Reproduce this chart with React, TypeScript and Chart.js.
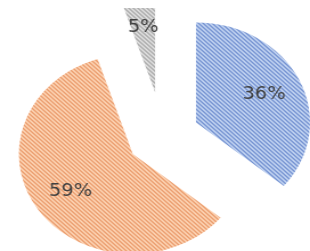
import React, { useEffect, useRef } from 'react';
import { Chart, ArcElement, PieController, registerables } from 'chart.js';

Chart.register(...registerables);

// ---- data ----
const categories = ['Category 1', 'Category 2', 'Category 3'];
const values = [36, 59, 5];
const percentLabels = ['36%', '59%', '5%'];
const explodeShifts = [32, 32, 44];

// stripe colours per slice: [dark, mid, light]
const stripeColors = [
  ['#6282c8', '#8fabe0', '#c4d5f2'],
  ['#e68e5c', '#f3b286', '#fdd5b6'],
  ['#9a9a9a', '#bcbcbc', '#e4e4e4'],
];

class ExplodedArc extends ArcElement {
  static id = 'explodedArc';
  draw(ctx: CanvasRenderingContext2D) {
    const shift = (this as any).$shift || 0;
    const mid = ((this as any).startAngle + (this as any).endAngle) / 2;
    ctx.save();
    ctx.translate(Math.cos(mid) * shift, Math.sin(mid) * shift);
    super.draw(ctx);
    ctx.restore();
  }
}

class ExplodedPieController extends PieController {
  static id = 'explodedPie';
  static defaults = { dataElementType: 'explodedArc' };
}

Chart.register(ExplodedArc, ExplodedPieController);

function makePattern(colors: string[]): CanvasPattern | string {
  const n = 4;
  const c = document.createElement('canvas');
  c.width = n;
  c.height = n;
  const g = c.getContext('2d');
  if (!g) return colors[1];
  for (let y = 0; y < n; y++) {
    for (let x = 0; x < n; x++) {
      const d = (((x - y) % n) + n) % n;
      g.fillStyle = d === 0 ? colors[0] : d === 1 ? colors[1] : colors[2];
      g.fillRect(x, y, 1, 1);
    }
  }
  const p = g.createPattern(c, 'repeat');
  return p || colors[1];
}

const explodePlugin = {
  id: 'explodeLabels',
  beforeDatasetsDraw(chart: any) {
    chart.getDatasetMeta(0).data.forEach((arc: any, i: number) => {
      arc.$shift = explodeShifts[i];
    });
  },
  afterDatasetsDraw(chart: any) {
    const ctx = chart.ctx as CanvasRenderingContext2D;
    const meta = chart.getDatasetMeta(0);
    ctx.save();
    ctx.font = '17px "DejaVu Sans"';
    ctx.fillStyle = '#404040';
    ctx.textAlign = 'center';
    ctx.textBaseline = 'middle';
    meta.data.forEach((arc: any, i: number) => {
      const { x, y, startAngle, endAngle, outerRadius } = arc.getProps(
        ['x', 'y', 'startAngle', 'endAngle', 'outerRadius'],
        true
      );
      const mid = (startAngle + endAngle) / 2;
      const r = explodeShifts[i] + outerRadius * 0.66;
      ctx.fillText(percentLabels[i], x + Math.cos(mid) * r, y + Math.sin(mid) * r);
    });
    ctx.restore();
  },
};

export default function App() {
  const ref = useRef<HTMLCanvasElement | null>(null);

  useEffect(() => {
    if (!ref.current) return;
    const patterns = stripeColors.map(makePattern);
    const chart = new Chart(ref.current, {
      type: 'explodedPie' as any,
      data: {
        labels: categories,
        datasets: [
          {
            data: values,
            backgroundColor: patterns as any,
            borderWidth: 0,
            clip: { left: 40, top: 13, right: 40, bottom: 40 },
          } as any,
        ],
      },
      options: {
        animation: false,
        responsive: false,
        devicePixelRatio: 1,
        events: [],
        radius: 100,
        layout: { padding: { left: 14, top: 21, right: 0, bottom: 0 } },
        plugins: {
          legend: { display: false },
          tooltip: { enabled: false },
        },
      } as any,
      plugins: [explodePlugin],
    });
    return () => chart.destroy();
  }, []);

  return (
    <div style={{ position: 'absolute', left: 0, top: 0, width: 310, height: 251, background: '#ffffff' }}>
      <canvas ref={ref} width={272} height={251} style={{ width: '310px', height: '251px', display: 'block' }} />
    </div>
  );
}
